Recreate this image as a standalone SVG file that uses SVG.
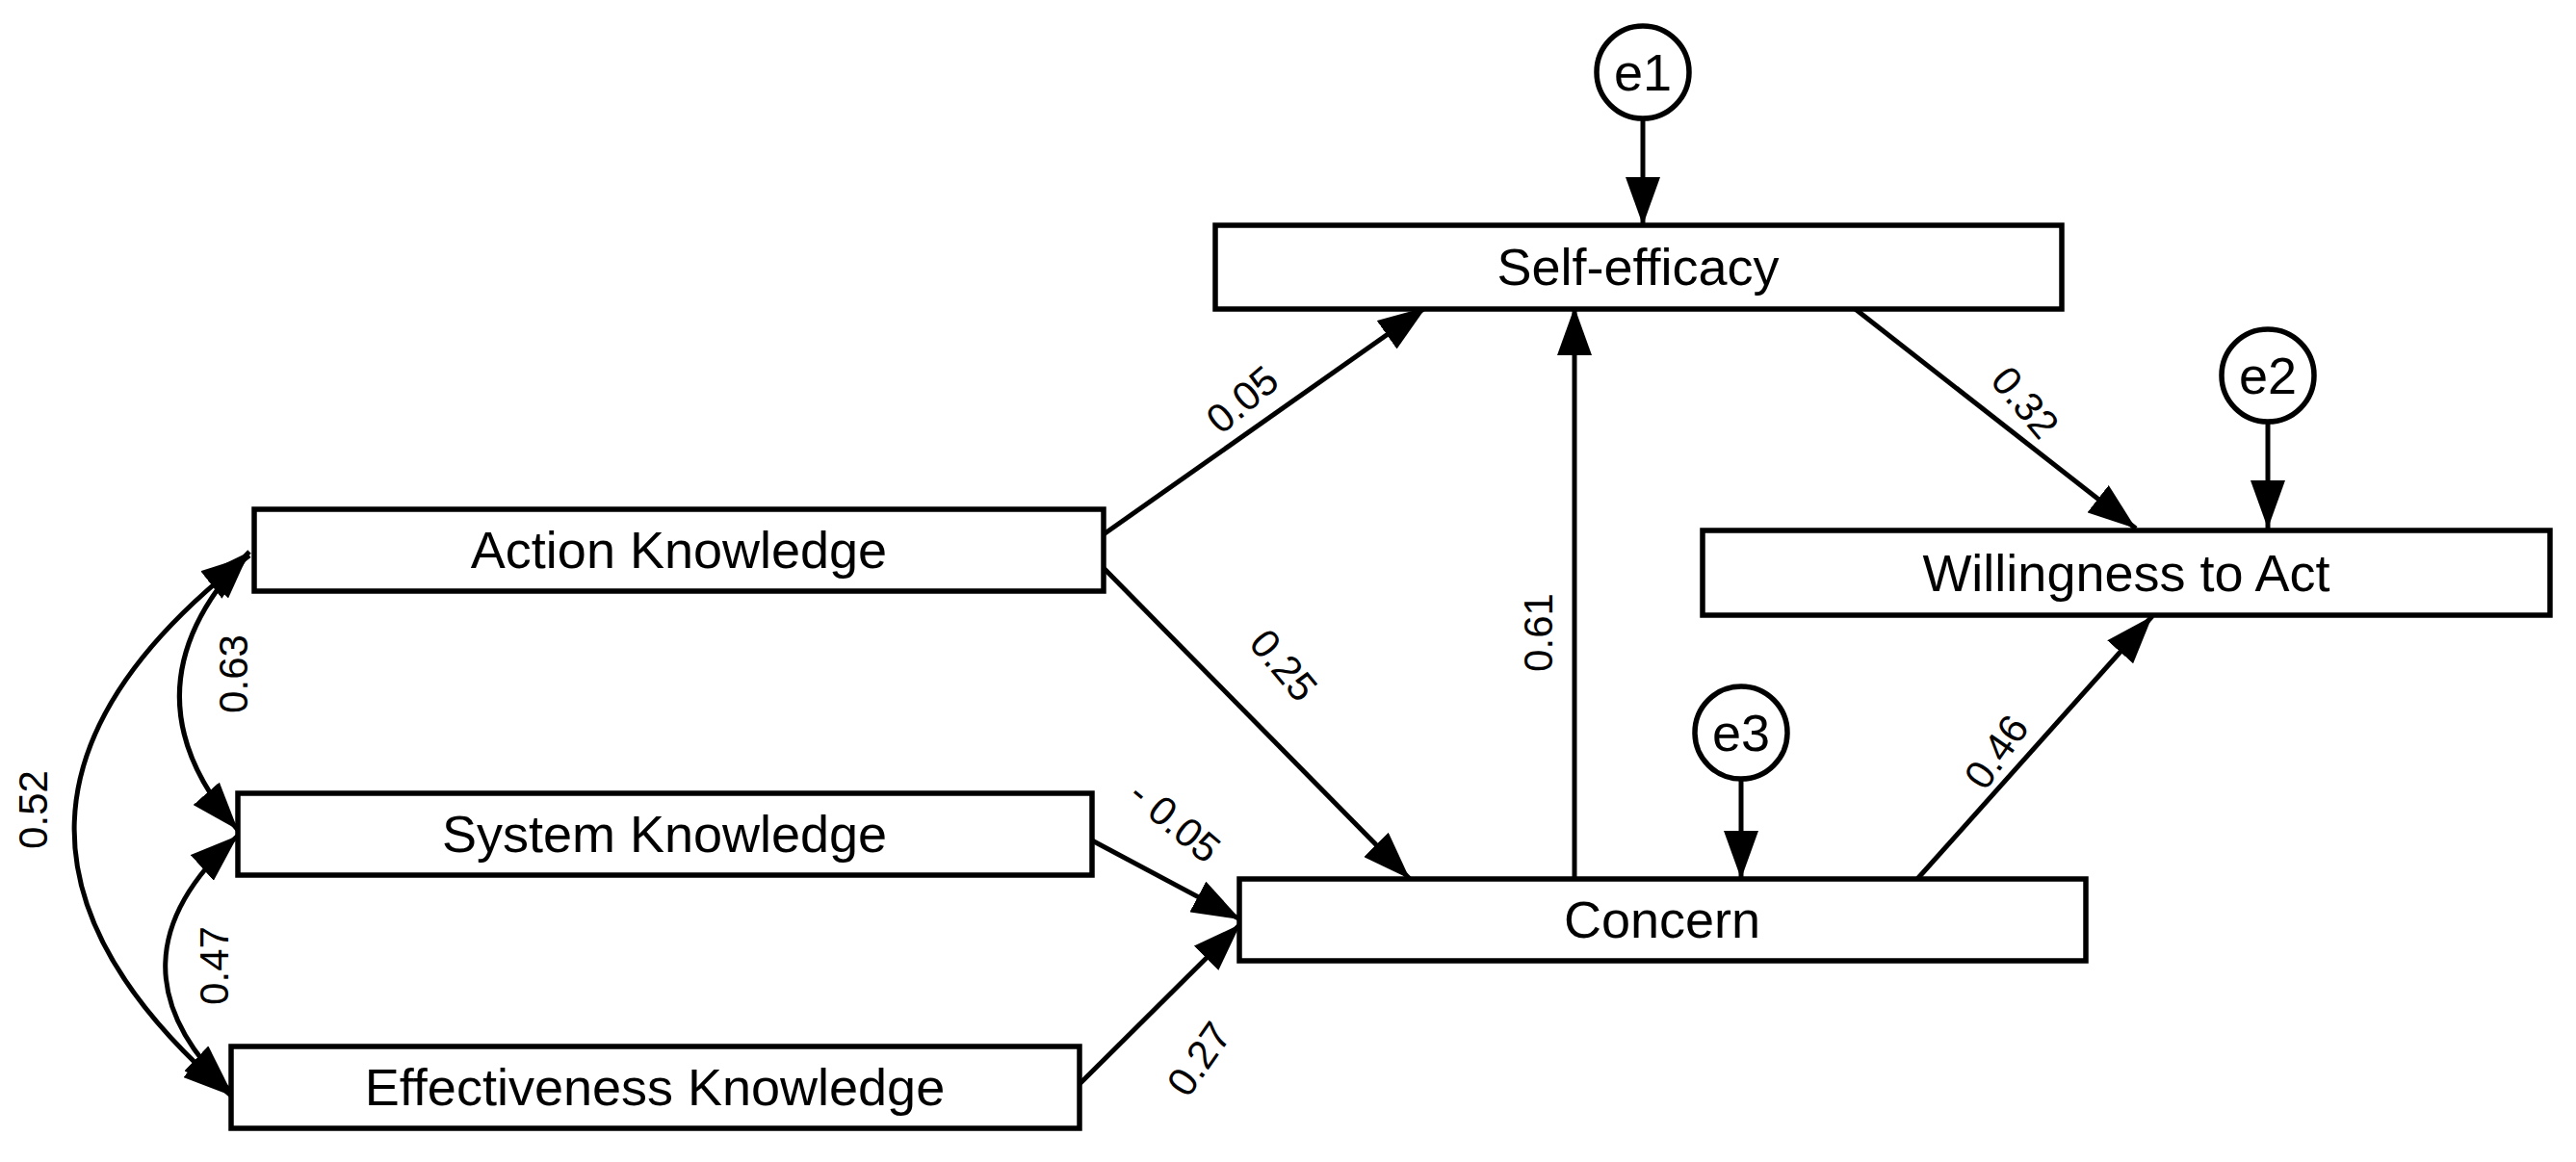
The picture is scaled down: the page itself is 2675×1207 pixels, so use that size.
<svg xmlns="http://www.w3.org/2000/svg" width="2675" height="1207" viewBox="0 0 2675 1207">
<style>
.box{fill:#fff;stroke:#000;stroke-width:5.5}
.lbl{font-family:"Liberation Sans",Arial,sans-serif;font-size:54px;text-anchor:middle;dominant-baseline:central}
.el{font-family:"Liberation Sans",Arial,sans-serif;font-size:42px;text-anchor:middle;dominant-baseline:central}
.c{fill:none;stroke:#000;stroke-width:5}
</style>
<defs>
<marker id="a" markerUnits="userSpaceOnUse" markerWidth="52" markerHeight="36" refX="50" refY="18" orient="auto-start-reverse">
<path d="M0,0 L50,18 L0,36 Z" fill="#000"/>
</marker>
</defs>
<g id="connectors">
<line class="c" x1="1706" y1="125" x2="1706" y2="234" marker-end="url(#a)"/>
<line class="c" x1="2355" y1="438" x2="2355" y2="549" marker-end="url(#a)"/>
<line class="c" x1="1808" y1="810" x2="1808" y2="913" marker-end="url(#a)"/>
<line class="c" x1="1146" y1="555" x2="1481" y2="319" marker-end="url(#a)"/>
<line class="c" x1="1146" y1="590" x2="1464" y2="913" marker-end="url(#a)"/>
<line class="c" x1="1635" y1="913" x2="1635" y2="319" marker-end="url(#a)"/>
<line class="c" x1="1924" y1="319" x2="2218" y2="549" marker-end="url(#a)"/>
<line class="c" x1="1991" y1="913" x2="2235" y2="640" marker-end="url(#a)"/>
<line class="c" x1="1134" y1="873" x2="1288" y2="955" marker-end="url(#a)"/>
<line class="c" x1="1121" y1="1126" x2="1288" y2="960" marker-end="url(#a)"/>
<path class="c" d="M259,573 Q120,716 247,862" marker-start="url(#a)" marker-end="url(#a)"/>
<path class="c" d="M247,868 Q100,1000 240,1134" marker-start="url(#a)" marker-end="url(#a)"/>
<path class="c" d="M259,577 Q-95,850 240,1138" marker-start="url(#a)" marker-end="url(#a)"/>
<text class="el" transform="translate(1290,415) rotate(-40)">0.05</text>
<text class="el" transform="translate(1333,691) rotate(50)">0.25</text>
<text class="el" transform="translate(1597,657) rotate(-90)">0.61</text>
<text class="el" transform="translate(2103,418) rotate(50)">0.32</text>
<text class="el" transform="translate(2073,781) rotate(-55)">0.46</text>
<text class="el" transform="translate(1220,853) rotate(40)">- 0.05</text>
<text class="el" transform="translate(1245,1100) rotate(-55)">0.27</text>
<text class="el" transform="translate(242,700) rotate(-90)">0.63</text>
<text class="el" transform="translate(222,1003) rotate(-90)">0.47</text>
<text class="el" transform="translate(34,841) rotate(-90)">0.52</text>
</g>
<g id="e1"><circle class="box" cx="1706" cy="75" r="48"/><text class="lbl" x="1706" y="75">e1</text></g>
<g id="e2"><circle class="box" cx="2355" cy="390" r="48"/><text class="lbl" x="2355" y="390">e2</text></g>
<g id="e3"><circle class="box" cx="1808" cy="761" r="48"/><text class="lbl" x="1808" y="761">e3</text></g>
<g id="self-efficacy"><rect class="box" x="1262" y="234" width="879" height="87"/><text class="lbl" x="1701" y="277">Self-efficacy</text></g>
<g id="willingness"><rect class="box" x="1768" y="551" width="880" height="88"/><text class="lbl" x="2208" y="595">Willingness to Act</text></g>
<g id="concern"><rect class="box" x="1287" y="913" width="879" height="85"/><text class="lbl" x="1726" y="955">Concern</text></g>
<g id="action"><rect class="box" x="264" y="529" width="882" height="85"/><text class="lbl" x="705" y="571">Action Knowledge</text></g>
<g id="system"><rect class="box" x="247" y="824" width="887" height="85"/><text class="lbl" x="690" y="866">System Knowledge</text></g>
<g id="effectiveness"><rect class="box" x="240" y="1087" width="881" height="85"/><text class="lbl" x="680" y="1129">Effectiveness Knowledge</text></g>
</svg>
